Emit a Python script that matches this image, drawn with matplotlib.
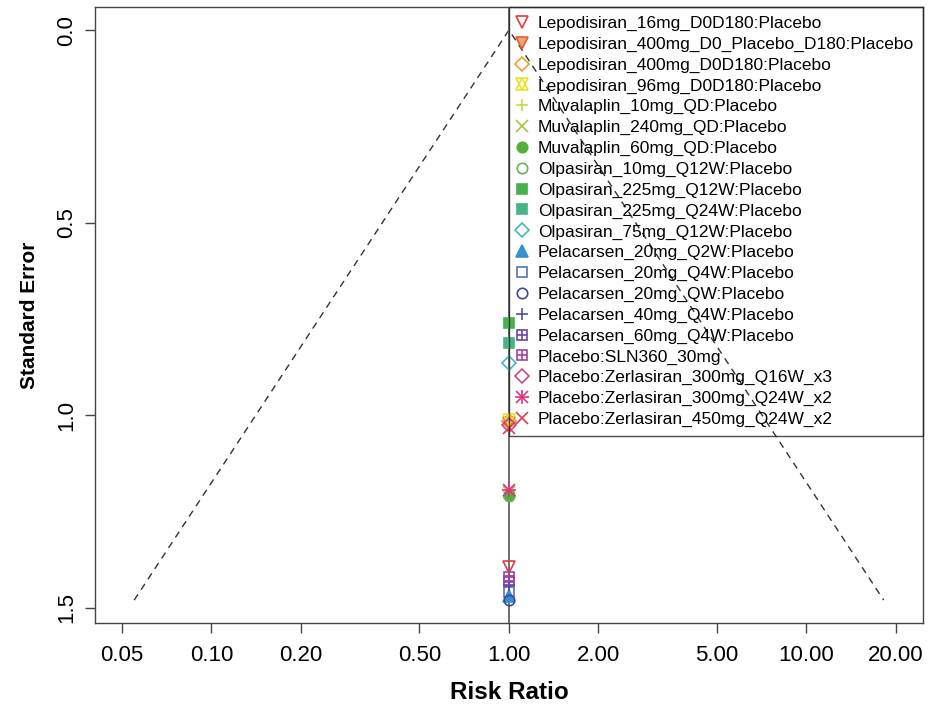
# Comparison-adjusted funnel plot (netmeta style) redrawn with matplotlib

import numpy as np
import matplotlib
matplotlib.use("Agg")
import matplotlib.pyplot as plt
from matplotlib.legend_handler import HandlerTuple

plt.rcParams['font.family'] = ['Liberation Sans', 'DejaVu Sans']

## data
comparisons = [
    "Lepodisiran_16mg_D0D180:Placebo",
    "Lepodisiran_400mg_D0_Placebo_D180:Placebo",
    "Lepodisiran_400mg_D0D180:Placebo",
    "Lepodisiran_96mg_D0D180:Placebo",
    "Muvalaplin_10mg_QD:Placebo",
    "Muvalaplin_240mg_QD:Placebo",
    "Muvalaplin_60mg_QD:Placebo",
    "Olpasiran_10mg_Q12W:Placebo",
    "Olpasiran_225mg_Q12W:Placebo",
    "Olpasiran_225mg_Q24W:Placebo",
    "Olpasiran_75mg_Q12W:Placebo",
    "Pelacarsen_20mg_Q2W:Placebo",
    "Pelacarsen_20mg_Q4W:Placebo",
    "Pelacarsen_20mg_QW:Placebo",
    "Pelacarsen_40mg_Q4W:Placebo",
    "Pelacarsen_60mg_Q4W:Placebo",
    "Placebo:SLN360_30mg",
    "Placebo:Zerlasiran_300mg_Q16W_x3",
    "Placebo:Zerlasiran_300mg_Q24W_x2",
    "Placebo:Zerlasiran_450mg_Q24W_x2",
]
risk_ratio = [1.0, 1.0, 1.0, 1.0, 1.0, 1.0, 1.0, 1.0, 1.0, 1.0,
              1.0, 1.0, 1.0, 1.0, 1.0, 1.0, 1.0, 1.0, 1.0, 1.0]
std_err = [1.394, 1.020, 1.015, 1.012, 1.200, 1.200, 1.207, 1.210, 0.760, 0.812,
           0.864, 1.470, 1.460, 1.480, 1.440, 1.430, 1.420, 1.025, 1.194, 1.033]

colors = ['#E8383D', '#E0602E', '#EFA035', '#EDDF2A', '#C5D84A',
          '#A6C244', '#55B03A', '#6BB054', '#45B24E', '#46B486',
          '#45B6C2', '#3590D2', '#5272C2', '#404A94', '#4E4FA2',
          '#6E42A4', '#A043A2', '#D0458F', '#E03482', '#E23A55']
# marker spec per comparison (R pch look-alikes)
markers = ['v', 'v', 'D', 'star6', '+', 'x', 'o', 'o', 's', 's',
           'D', '^', 's', 'o', '+', 'sqplus', 'sqplus', 'D', 'asterisk', 'x']
filled = [False, True, False, False, False, False, True, False, True, True,
          False, True, False, False, False, False, False, False, False, False]

fig, ax = plt.subplots(figsize=(9.3, 7.07), dpi=100)
fig.subplots_adjust(left=0.102, right=0.9925, bottom=0.119, top=0.990)

ms = 9
handles = []
for rr, se, col, mk, fl in zip(risk_ratio, std_err, colors, markers, filled):
    kw = dict(ls='none', color=col, markeredgewidth=1.2, zorder=4)
    if mk == 'star6':
        h1, = ax.plot([rr], [se], marker='^', mfc='none', ms=ms - 1, **kw)
        h2, = ax.plot([rr], [se], marker='v', mfc='none', ms=ms - 1, **kw)
        handles.append((h1, h2))
    elif mk == 'sqplus':
        h1, = ax.plot([rr], [se], marker='s', mfc='none', ms=ms - 2, **kw)
        h2, = ax.plot([rr], [se], marker='+', ms=ms - 2, **kw)
        handles.append((h1, h2))
    elif mk == 'asterisk':
        h1, = ax.plot([rr], [se], marker='+', ms=ms + 1, **kw)
        h2, = ax.plot([rr], [se], marker='x', ms=ms - 1, **kw)
        handles.append((h1, h2))
    elif mk == 'v' and fl:
        h, = ax.plot([rr], [se], marker='v', mfc='#F2A27A', ms=ms, **kw)
        handles.append(h)
    else:
        size = ms - 2 if mk == 'D' else ms
        if mk == 's':
            size = ms - 1.5
        if mk == 'o':
            size = ms - 1.5
        h, = ax.plot([rr], [se], marker=mk, mfc=(col if fl else 'none'), ms=size, **kw)
        handles.append(h)

## funnel and reference line
se_max = max(std_err)
ax.plot([np.exp(-1.96 * se_max), 1.0, np.exp(1.96 * se_max)], [se_max, 0, se_max],
        ls=(0, (5, 4)), color='#333333', lw=1.0, zorder=2)
ax.axvline(1.0, color='#555555', lw=1.2, zorder=3)

ax.set_xscale('log')
ax.set_xlim(10 ** -1.392, 10 ** 1.392)
ax.set_ylim(1.539, -0.0597)

xt = [0.05, 0.10, 0.20, 0.50, 1.00, 2.00, 5.00, 10.00, 20.00]
ax.set_xticks(xt)
ax.set_xticklabels(["%.2f" % v for v in xt])
ax.xaxis.set_minor_locator(matplotlib.ticker.NullLocator())
ax.set_yticks([0.0, 0.5, 1.0, 1.5])
ax.set_yticklabels(["0.0", "0.5", "1.0", "1.5"], rotation=90, va='center')
ax.tick_params(axis='both', labelsize=16, length=7, width=1, color='#444444', pad=6)
ax.tick_params(axis='x', pad=9)
for s in ax.spines.values():
    s.set_color('#444444')
    s.set_linewidth(1.0)

ax.set_xlabel("Risk Ratio", fontsize=17.5, fontweight='bold', labelpad=11)
ax.set_ylabel("Standard Error", fontsize=15, fontweight='bold', labelpad=12)

leg = ax.legend(handles, comparisons, loc='upper right', bbox_to_anchor=(1.0, 1.0),
                borderaxespad=0, fontsize=12.5, handlelength=0.5, handletextpad=0.7,
                labelspacing=0.32, borderpad=0.5, fancybox=False,
                edgecolor='#222222', handler_map={tuple: HandlerTuple(ndivide=1, pad=0)})
leg.get_frame().set_linewidth(1.0)
leg.get_frame().set_facecolor('none')
leg.set_zorder(5)

plt.savefig("out.png", dpi=100)
